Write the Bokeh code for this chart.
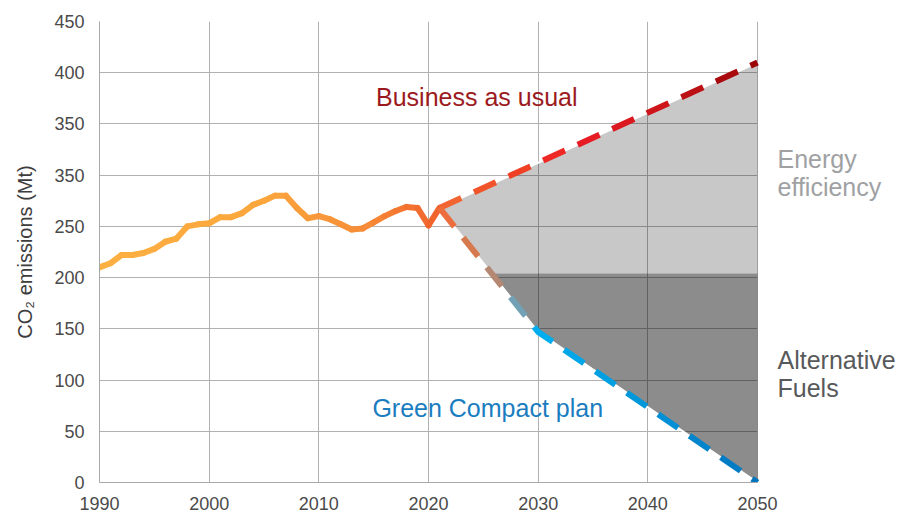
import numpy as np
from bokeh.plotting import figure
from bokeh.models import Range1d, FixedTicker, Label
from bokeh.embed import file_html
from bokeh.resources import INLINE

# ---------------- data ----------------
hist_years = list(range(1990, 2022))
hist_co2 = [210, 214, 222, 222, 224, 228, 235, 238, 250, 252,
            253, 259, 259, 263, 271, 275, 280, 280, 268, 258,
            260, 257, 252, 247, 248, 254, 260, 265, 269, 268,
            251, 268]

proj_years = [2021, 2030, 2050]
bau_co2 = [268, 312, 410]          # Business as usual
green_co2 = [268, 147, 0]          # Green Compact plan
alt_fuels_level = 204              # top of "Alternative Fuels" wedge

x_ticks = [1990, 2000, 2010, 2020, 2030, 2040, 2050]
y_ticks = [0, 50, 100, 150, 200, 250, 300, 350, 400, 450]
y_tick_labels = ["0", "50", "100", "150", "200", "250", "350", "350", "400", "450"]

# ---------------- styles ----------------
FONT = "Liberation Sans"
hist_stop_years = [1990, 2005, 2014, 2021]
hist_stop_cols = ["#FDB042", "#FBA63C", "#F78E38", "#F1622C"]
bau_stop_years = [2021, 2027, 2033, 2040, 2050]
bau_stop_cols = ["#F26A35", "#F04A25", "#ED1C24", "#D3161E", "#990606"]
green_stop_years = [2021, 2024, 2026, 2028, 2030, 2040, 2050]
green_stop_cols = ["#F26B3A", "#D67A50", "#B48872", "#7CA0B0", "#00AEEF", "#0095D9", "#0074BE"]

X0, X1, Y0, Y1 = 1990, 2050, 0, 450
FW, FH = 658, 461
TOP, BOTTOM, LEFT = 21, 35, 99
W = 907
H = TOP + FH + BOTTOM
sx, sy = FW / (X1 - X0), FH / (Y1 - Y0)
XR = X0 + (W - LEFT) / sx       # frame extends under the right-hand labels


def hex2rgb(h):
    h = h.lstrip("#")
    return np.array([int(h[i:i + 2], 16) for i in (0, 2, 4)], dtype=float)


def color_at(x, stop_years, stop_cols):
    rgb = np.array([hex2rgb(c) for c in stop_cols])
    c = [np.interp(x, stop_years, rgb[:, k]) for k in range(3)]
    return "#%02x%02x%02x" % tuple(int(round(v)) for v in c)


def dashes(xs, ys, stop_years, stop_cols, dash=24.0, gap=14.0):
    px = (np.asarray(xs, float) - X0) * sx
    py = (np.asarray(ys, float) - Y0) * sy
    seg = np.hypot(np.diff(px), np.diff(py))
    cum = np.concatenate([[0], np.cumsum(seg)])
    L = cum[-1]
    out_x, out_y, cols = [], [], []
    s = 0.0
    while s < L - 1e-6:
        e = min(s + dash, L)
        pts = [s] + [c for c in cum if s < c < e] + [e]
        qx = np.interp(pts, cum, px) / sx + X0
        qy = np.interp(pts, cum, py) / sy + Y0
        out_x.append(list(qx))
        out_y.append(list(qy))
        mid = np.interp((s + e) / 2, cum, px) / sx + X0
        cols.append(color_at(mid, stop_years, stop_cols))
        s += dash + gap
    return out_x, out_y, cols


# ---------------- figure ----------------
p = figure(width=W, height=H, output_backend="svg", toolbar_location=None,
           x_range=Range1d(X0, XR), y_range=Range1d(Y0, Y1),
           min_border_left=LEFT, min_border_right=0, min_border_top=TOP,
           min_border_bottom=BOTTOM)
p.outline_line_color = None
p.background_fill_color = "white"
p.border_fill_color = "white"

p.xaxis.ticker = FixedTicker(ticks=x_ticks)
p.yaxis.ticker = FixedTicker(ticks=y_ticks)
p.xaxis.bounds = (X0, X1)
p.yaxis.major_label_overrides = {t: l for t, l in zip(y_ticks, y_tick_labels)}
p.xgrid.ticker = FixedTicker(ticks=x_ticks)
p.ygrid.ticker = FixedTicker(ticks=y_ticks)
p.xgrid.bounds = (X0, X1)
p.ygrid.cross_bounds = (X0, X1)
p.grid.grid_line_color = "#b1b1b1"
p.grid.grid_line_width = 1

for ax in (p.xaxis, p.yaxis):
    ax.axis_line_color = "#a8a8a8"
    ax.major_tick_line_color = None
    ax.minor_tick_line_color = None
    ax.major_tick_in = 0
    ax.major_tick_out = 0
    ax.major_label_text_font = FONT
    ax.major_label_text_font_size = "18px"
    ax.major_label_text_color = "#4a4a4a"
p.xaxis.major_label_standoff = 14
p.yaxis.major_label_standoff = 15
p.yaxis.axis_label = "CO₂ emissions (Mt)"
p.yaxis.axis_label_text_font = FONT
p.yaxis.axis_label_text_font_size = "20px"
p.yaxis.axis_label_text_font_style = "normal"
p.yaxis.axis_label_text_color = "#3d3d3d"
p.yaxis.axis_label_standoff = 15

# shaded wedges
xx = np.linspace(proj_years[0], proj_years[-1], 800)
bau_i = np.interp(xx, proj_years, bau_co2)
green_i = np.interp(xx, proj_years, green_co2)
p.varea(x=xx, y1=np.maximum(green_i, alt_fuels_level), y2=bau_i,
        fill_color="black", fill_alpha=0.215)
p.varea(x=xx, y1=green_i, y2=np.maximum(green_i, alt_fuels_level),
        fill_color="black", fill_alpha=0.45)

# thin light edge along the projections
p.line(proj_years, bau_co2, line_color="white", line_width=2)
p.line(proj_years, green_co2, line_color="white", line_width=2)

# historical line with gradient
hx = np.array(hist_years, float)
hy = np.array(hist_co2, float)
mids = (hx[:-1] + hx[1:]) / 2
hcols = [color_at(m, hist_stop_years, hist_stop_cols) for m in mids]
p.segment(x0=hx[:-1], y0=hy[:-1], x1=hx[1:], y1=hy[1:], line_color=hcols,
          line_width=6, line_cap="round")

# dashed projections with gradient
for ys, sy_, sc in ((bau_co2, bau_stop_years, bau_stop_cols),
                    (green_co2, green_stop_years, green_stop_cols)):
    dx, dy, dc = dashes(proj_years, ys, sy_, sc)
    p.multi_line(xs=dx, ys=dy, line_color=dc, line_width=6, line_cap="butt")


def lab(text, x, y, color, align="center"):
    p.add_layout(Label(x=x, y=y, text=text, text_font=FONT, text_font_size="25px",
                       text_color=color, text_align=align, text_baseline="middle"))


XT = X1 + 20 / sx   # right-hand labels start 20px right of the frame edge
lab("Business as usual", 2024.4, 376, "#9b1a1e")
lab("Green Compact plan", 2025.4, 73, "#1a7dc0")
lab("Energy", XT, 316, "#a0a1a3", "left")
lab("efficiency", XT, 288, "#a0a1a3", "left")
lab("Alternative", XT, 120, "#58595b", "left")
lab("Fuels", XT, 92, "#58595b", "left")

open("out.html", "w").write(file_html(p, INLINE))
